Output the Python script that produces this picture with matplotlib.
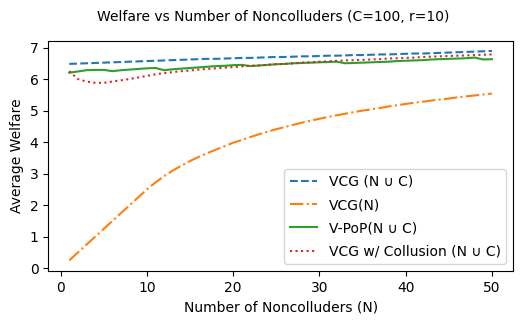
import matplotlib
matplotlib.use("Agg")
import matplotlib.pyplot as plt

n_values = list(range(1, 51))

vcg_all = [6.48, 6.49, 6.50, 6.51, 6.52, 6.53, 6.54, 6.55, 6.56, 6.57,
           6.58, 6.59, 6.60, 6.61, 6.62, 6.63, 6.64, 6.64, 6.65, 6.66,
           6.67, 6.67, 6.68, 6.69, 6.70, 6.70, 6.71, 6.72, 6.72, 6.73,
           6.74, 6.74, 6.75, 6.76, 6.76, 6.77, 6.78, 6.78, 6.79, 6.80,
           6.81, 6.81, 6.82, 6.83, 6.84, 6.85, 6.86, 6.87, 6.88, 6.89]

vcg_n = [0.25, 0.50, 0.75, 1.00, 1.25, 1.50, 1.75, 2.00, 2.25, 2.50,
         2.72, 2.92, 3.10, 3.25, 3.40, 3.53, 3.65, 3.76, 3.87, 3.98,
         4.07, 4.16, 4.25, 4.33, 4.41, 4.48, 4.55, 4.62, 4.68, 4.74,
         4.80, 4.85, 4.90, 4.95, 5.00, 5.04, 5.08, 5.13, 5.17, 5.21,
         5.25, 5.28, 5.32, 5.35, 5.38, 5.42, 5.45, 5.48, 5.51, 5.54]

vpop = [6.20, 6.24, 6.28, 6.29, 6.29, 6.25, 6.28, 6.30, 6.32, 6.34,
        6.35, 6.28, 6.31, 6.33, 6.35, 6.37, 6.39, 6.41, 6.42, 6.44,
        6.45, 6.41, 6.43, 6.45, 6.47, 6.48, 6.50, 6.51, 6.52, 6.53,
        6.54, 6.55, 6.50, 6.51, 6.52, 6.53, 6.54, 6.55, 6.57, 6.58,
        6.59, 6.60, 6.62, 6.63, 6.64, 6.65, 6.66, 6.68, 6.62, 6.63]

collusion = [6.25, 6.00, 5.92, 5.88, 5.88, 5.92, 5.96, 6.00, 6.05, 6.10,
             6.15, 6.19, 6.22, 6.25, 6.27, 6.30, 6.32, 6.34, 6.36, 6.38,
             6.40, 6.42, 6.43, 6.45, 6.47, 6.48, 6.50, 6.52, 6.53, 6.55,
             6.56, 6.58, 6.59, 6.60, 6.61, 6.62, 6.63, 6.65, 6.66, 6.67,
             6.68, 6.70, 6.71, 6.72, 6.73, 6.74, 6.75, 6.76, 6.77, 6.78]

fig, ax = plt.subplots(figsize=(5.23, 3.24), dpi=100)
fig.subplots_adjust(left=0.092, right=0.981, top=0.875, bottom=0.164)

ax.plot(n_values, vcg_all, "--", color="tab:blue", label="VCG (N \u222a C)")
ax.plot(n_values, vcg_n, "-.", color="tab:orange", label="VCG(N)")
ax.plot(n_values, vpop, "-", color="tab:green", label="V-PoP(N \u222a C)")
ax.plot(n_values, collusion, ":", color="tab:red", label="VCG w/ Collusion (N \u222a C)")

ax.set_xlabel("Number of Noncolluders (N)")
ax.set_ylabel("Average Welfare")
fig.suptitle("Welfare vs Number of Noncolluders (C=100, r=10)", fontsize=10,
             x=0.522, y=0.968)
ax.set_xticks([0, 10, 20, 30, 40, 50])
ax.set_yticks(range(0, 8))
ax.legend(loc="lower right", labelspacing=0.66)

fig.savefig("out.png", dpi=100)
